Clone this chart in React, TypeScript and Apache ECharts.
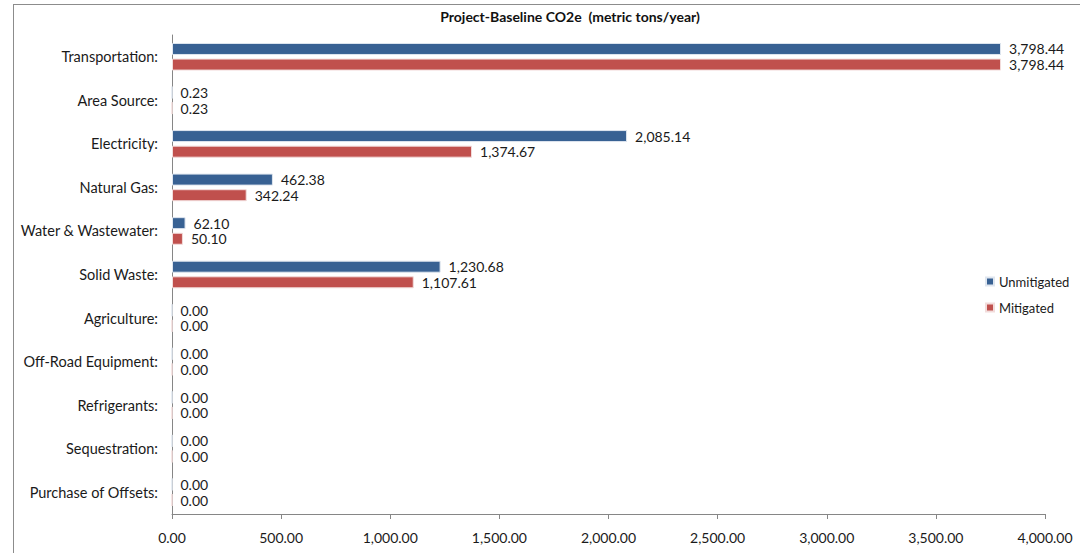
import React, { useEffect, useRef } from "react";
import * as echarts from "echarts";

const categories = [
  "Transportation",
  "Area Source",
  "Electricity",
  "Natural Gas",
  "Water & Wastewater",
  "Solid Waste",
  "Agriculture",
  "Off-Road Equipment",
  "Refrigerants",
  "Sequestration",
  "Purchase of Offsets",
];
const unmitigated = [3798.44, 0.23, 2085.14, 462.38, 62.1, 1230.68, 0, 0, 0, 0, 0];
const mitigated = [3798.44, 0.23, 1374.67, 342.24, 50.1, 1107.61, 0, 0, 0, 0, 0];
const xTicks = { min: 0, max: 4000, interval: 500 };

const fmt = (v: number) =>
  v.toLocaleString("en-US", { minimumFractionDigits: 2, maximumFractionDigits: 2 });

const FONT = "Lato";

export default function App() {
  const ref = useRef<HTMLDivElement>(null);
  useEffect(() => {
    if (!ref.current) return;
    const chart = echarts.init(ref.current, undefined, { renderer: "svg" });
    const labelStyle = {
      show: true,
      position: "right" as const,
      distance: 8,
      color: "#1a1a1a",
      fontSize: 14,
      lineHeight: 14,
      fontFamily: FONT,
      formatter: (p: any) => fmt(p.value),
    };
    chart.setOption({
      animation: false,
      backgroundColor: "#fff",
      textStyle: { fontFamily: FONT },
      title: {
        text: "Project-Baseline CO2e  (metric tons/year)",
        left: 565,
        textAlign: "center",
        top: 4,
        textStyle: { fontSize: 14, fontWeight: "bold", color: "#111", fontFamily: FONT },
      },
      legend: {
        orient: "vertical",
        left: 980,
        top: 270,
        itemWidth: 8,
        itemHeight: 8,
        itemGap: 13,
        icon: "rect",
        textStyle: { fontSize: 13, color: "#1a1a1a", fontFamily: FONT },
        data: ["Unmitigated", "Mitigated"],
      },
      grid: { left: 172, right: 35, top: 35, bottom: 39, containLabel: false },
      xAxis: {
        type: "value",
        min: xTicks.min,
        max: xTicks.max,
        interval: xTicks.interval,
        axisLine: { show: true, lineStyle: { color: "#868686" } },
        axisTick: { show: true, length: 5, lineStyle: { color: "#868686" } },
        splitLine: { show: false },
        axisLabel: {
          margin: 16,
          fontSize: 14,
          color: "#1a1a1a",
          fontFamily: FONT,
          formatter: (v: number) => fmt(v),
        },
      },
      yAxis: {
        type: "category",
        inverse: true,
        data: categories,
        axisLine: { show: true, lineStyle: { color: "#868686" } },
        axisTick: { show: false },
        axisLabel: {
          margin: 14,
          fontSize: 14.5,
          color: "#1a1a1a",
          fontFamily: FONT,
          formatter: (v: string) => v + ":",
        },
      },
      series: [
        {
          name: "Unmitigated",
          type: "bar",
          data: unmitigated,
          barWidth: 12,
          barGap: "30%",
          itemStyle: { color: "#386193", borderColor: "#dfe6ef", borderWidth: 1 },
          label: labelStyle,
        },
        {
          name: "Mitigated",
          type: "bar",
          data: mitigated,
          barWidth: 12,
          itemStyle: { color: "#C0504D", borderColor: "#f2dcdb", borderWidth: 1 },
          label: labelStyle,
        },
      ],
      graphic: [
        { type: "line", shape: { x1: 13, y1: 4.5, x2: 1080, y2: 4.5 }, style: { stroke: "#8c8c8c", lineWidth: 1 } },
        { type: "line", shape: { x1: 13.5, y1: 4, x2: 13.5, y2: 553 }, style: { stroke: "#8c8c8c", lineWidth: 1 } },
      ],
    });
    return () => chart.dispose();
  }, []);
  return (
    <div
      ref={ref}
      style={{ position: "fixed", left: 0, top: 0, width: 1080, height: 553, background: "#fff" }}
    />
  );
}
